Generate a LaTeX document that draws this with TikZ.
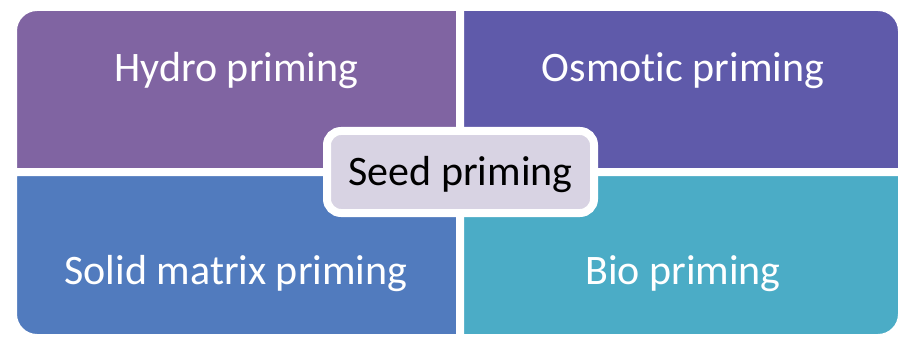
\documentclass[tikz,border=0pt]{standalone}
\usepackage{fontspec}
\setmainfont{Carlito}[Ligatures=NoCommon]
\usetikzlibrary{shadows}

\definecolor{hydrofill}{RGB}{128,100,162}
\definecolor{osmofill}{RGB}{95,90,170}
\definecolor{solidfill}{RGB}{81,123,190}
\definecolor{biofill}{RGB}{75,172,198}
\definecolor{seedfill}{RGB}{216,211,227}

\begin{document}
\begin{tikzpicture}[x=1pt, y=1pt,
    quad/.style={draw=white, line width=8pt, line join=round,
      drop shadow={shadow xshift=1.5pt, shadow yshift=-1.5pt, opacity=0.25, fill=black}},
    lbl/.style={text=white, anchor=base, font=\fontsize{42}{50}\selectfont},
    hub/.style={draw=white, line width=8pt, rounded corners=14pt, fill=seedfill,
      minimum width=267pt, minimum height=82pt, inner sep=0pt,
      text height=36pt, text depth=10pt,
      font=\fontsize{42}{50}\selectfont,
      drop shadow={shadow xshift=2pt, shadow yshift=-2pt, opacity=0.35, fill=black}}]

  \useasboundingbox (0,0) rectangle (900,338);

  % four quarters, only the outer corner rounded
  \draw[quad, fill=hydrofill] (460,166) -- (13,166) -- (13,307)
    arc[start angle=180, end angle=90, radius=24pt] -- (460,331) -- cycle;
  \draw[quad, fill=osmofill] (460,166) -- (460,331) -- (878,331)
    arc[start angle=90, end angle=0, radius=24pt] -- (902,166) -- cycle;
  \draw[quad, fill=solidfill] (460,166) -- (13,166) -- (13,24)
    arc[start angle=180, end angle=270, radius=24pt] -- (460,0) -- cycle;
  \draw[quad, fill=biofill] (460,166) -- (902,166) -- (902,24)
    arc[start angle=0, end angle=-90, radius=24pt] -- (460,0) -- cycle;

  \node[lbl] (hydro) at (236.5,256) {Hydro priming};
  \node[lbl] (osmotic) at (683,256) {Osmotic priming};
  \node[lbl] (solid) at (236,54) {Solid matrix priming};
  \node[lbl] (bio) at (683,54) {Bio priming};

  \node[hub] (seed) at (460.5,166) {Seed priming};

\end{tikzpicture}
\end{document}
